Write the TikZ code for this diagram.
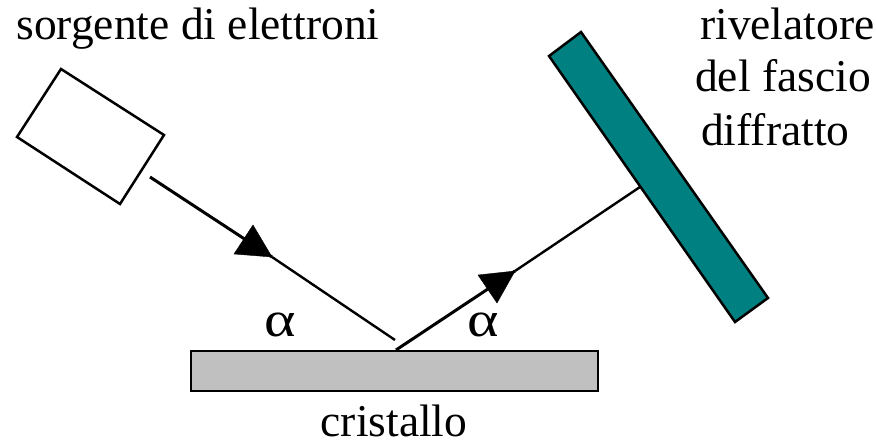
\documentclass[tikz,border=0pt]{standalone}
\usepackage{graphicx}
\usepackage{fontspec}
\setmainfont{Liberation Serif}
\definecolor{tealb}{RGB}{0,128,128}
\definecolor{grayb}{RGB}{192,192,192}
\begin{document}
\begin{tikzpicture}[x=1pt,y=-1pt,
  lab/.style={font=\fontsize{45.5}{53}\selectfont,text=black,inner sep=0pt,anchor=base},
  alab/.style={font=\fontsize{50}{52}\selectfont,text=black,inner sep=0pt,anchor=base},
  box/.style={draw=black,line width=2.5pt,line join=miter},
  thickbeam/.style={draw=black,line width=3pt},
  thinbeam/.style={draw=black,line width=2.4pt},
  head/.style={fill=black,draw=black,line width=0.4pt}]
\useasboundingbox[fill=white] (0,0) rectangle (876,444);
\path[box,fill=white] (61,69) -- (164,135) -- (120,204) -- (17,137) -- cycle;
\path[box,fill=tealb] (581,32) -- (768,298) -- (735,322) -- (549,56) -- cycle;
\path[box,fill=grayb] (191,351) rectangle (598,391);
\coordinate (s) at (150,177);
\coordinate (m1) at (272,257);
\coordinate (e1) at (395,340);
\coordinate (h) at (396,350);
\coordinate (m2) at (515,271);
\coordinate (d) at (640,187);
\draw[thickbeam] (s) -- (m1);
\draw[thinbeam] (m1) -- (e1);
\draw[thickbeam] (h) -- (m2);
\draw[thinbeam] (m2) -- (d);
\path[head] (m1) -- (253,225) -- (234,254) -- cycle;
\path[head] (m2) -- (478,275) -- (497,303) -- cycle;
\node[lab] (t1) at (198,40) {sorgente di elettroni};
\node[lab,anchor=base west] (t2a) at (700,40) {rivelatore};
\node[lab,anchor=base west] (t2b) at (695,92) {del fascio};
\node[lab,anchor=base west] (t2c) at (701,145) {diffratto};
\node[alab] (a1) at (280,336) {\scalebox{1.2}[1]{α}};
\node[alab] (a2) at (483,336) {\scalebox{1.2}[1]{α}};
\node[lab] (t3) at (394,436) {cristallo};
\end{tikzpicture}
\end{document}
